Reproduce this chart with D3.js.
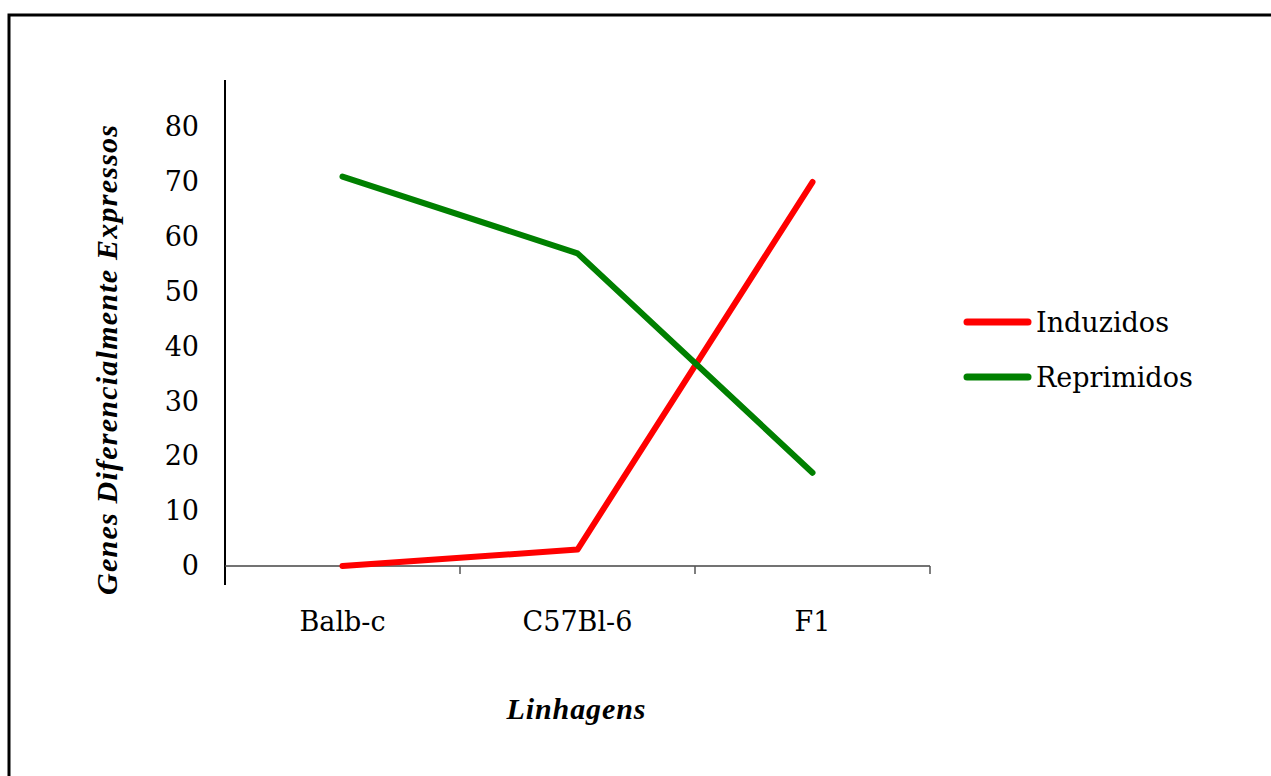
<!DOCTYPE html>
<html>
<head>
	<meta charset="utf-8">
	<script src="https://cdn.jsdelivr.net/npm/d3@7/dist/d3.min.js"></script>
	<style>
	body{
		margin: 0;
		background: #fff;
	}
	text{
		font-family: "DejaVu Serif", "Liberation Serif", serif;
		fill: #000;
	}
	text.title{
		font-family: "Liberation Serif", serif;
		font-weight: bold;
		font-style: italic;
		font-size: 30px;
	}
	</style>
</head>
<body>
<svg id="chart" width="1271" height="776"></svg>
<script>
// data
var linhagens = ["Balb-c", "C57Bl-6", "F1"];
var induzidos = [0, 3, 70];
var reprimidos = [71, 57, 17];
var yTicks = [0, 10, 20, 30, 40, 50, 60, 70, 80];
var seriesNames = ["Induzidos", "Reprimidos"];
var seriesColors = ["#ff0000", "#008000"];

var svg = d3.select("#chart");

// outer frame (right and bottom run off the page)
svg.append("rect")
	.attr("x", 9)
	.attr("y", 15)
	.attr("width", 1300)
	.attr("height", 800)
	.attr("fill", "none")
	.attr("stroke", "#000")
	.attr("stroke-width", 3);

var left = 225, right = 930, zeroY = 566, topY = 80;

var x = d3.scaleBand()
	.domain(linhagens)
	.range([left, right]);

var y = d3.scaleLinear()
	.domain([0, 88.6])
	.range([zeroY, topY]);

// y axis line, runs a bit under the x axis
svg.append("line")
	.attr("x1", left).attr("x2", left)
	.attr("y1", y(88.6)).attr("y2", zeroY + 19)
	.attr("stroke", "#000")
	.attr("stroke-width", 2);

// y tick labels
svg.append("g")
	.attr("transform", "translate(" + left + ",0)")
	.call(d3.axisLeft(y).tickValues(yTicks).tickSize(0).tickPadding(26))
	.call(function(g){ g.select(".domain").remove(); })
	.selectAll("text")
		.style("font-size", "27px");

// x axis
var xAxis = svg.append("g")
	.attr("transform", "translate(0," + zeroY + ")");
xAxis.append("line")
	.attr("x1", left).attr("x2", right)
	.attr("stroke", "#444")
	.attr("stroke-width", 1.5);
xAxis.selectAll(".sep")
	.data(linhagens)
	.enter().append("line")
	.attr("class", "sep")
	.attr("x1", function(d){ return x(d) + x.bandwidth(); })
	.attr("x2", function(d){ return x(d) + x.bandwidth(); })
	.attr("y1", 0).attr("y2", 8)
	.attr("stroke", "#555")
	.attr("stroke-width", 1.5);
xAxis.selectAll(".lbl")
	.data(linhagens)
	.enter().append("text")
	.attr("class", "lbl")
	.attr("x", function(d){ return x(d) + x.bandwidth() / 2; })
	.attr("y", 65)
	.attr("text-anchor", "middle")
	.style("font-size", "27px")
	.text(function(d){ return d; });

// axis titles
svg.append("text")
	.attr("class", "title")
	.attr("transform", "translate(117,360) rotate(-90)")
	.attr("text-anchor", "middle")
	.attr("textLength", 470)
	.attr("lengthAdjust", "spacing")
	.text("Genes Diferencialmente Expressos");

svg.append("text")
	.attr("class", "title")
	.attr("x", 576)
	.attr("y", 719)
	.attr("text-anchor", "middle")
	.attr("textLength", 139)
	.attr("lengthAdjust", "spacing")
	.text("Linhagens");

// lines
var line = d3.line()
	.x(function(d, i){ return x(linhagens[i]) + x.bandwidth() / 2; })
	.y(function(d){ return y(d); });

[induzidos, reprimidos].forEach(function(vals, i){
	svg.append("path")
		.datum(vals)
		.attr("d", line)
		.attr("fill", "none")
		.attr("stroke", seriesColors[i])
		.attr("stroke-width", 6)
		.attr("stroke-linecap", "round")
		.attr("stroke-linejoin", "round");
});

// legend
var legend = svg.append("g")
	.attr("transform", "translate(967,322)");
seriesNames.forEach(function(name, i){
	var row = legend.append("g")
		.attr("transform", "translate(0," + (i * 55) + ")");
	row.append("line")
		.attr("x1", 0).attr("x2", 61)
		.attr("stroke", seriesColors[i])
		.attr("stroke-width", 7)
		.attr("stroke-linecap", "round");
	row.append("text")
		.attr("x", 69)
		.attr("y", 10)
		.style("font-size", "27px")
		.text(name);
});
</script>
</body>
</html>
